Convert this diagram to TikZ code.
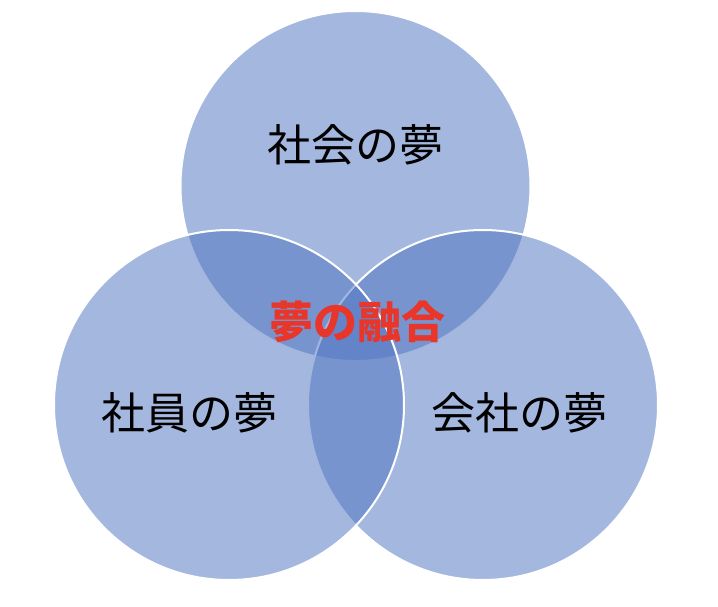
\documentclass[tikz,border=0pt]{standalone}
\usepackage{fontspec}
\newfontfamily\jp{Noto Sans CJK JP}
\definecolor{vennfill}{RGB}{80,117,193}
\definecolor{fusionred}{RGB}{232,54,42}
\begin{document}
\begin{tikzpicture}[x=1pt,y=-1pt,
  venn/.style={circle, minimum size=350pt, inner sep=0pt, fill=vennfill, fill opacity=0.52, draw=white, line width=2pt},
  label/.style={font=\jp\fontsize{44}{48}\selectfont, text=black, inner sep=0pt},
  fusion/.style={font=\jp\bfseries\fontsize{44}{48}\selectfont, text=fusionred, inner sep=0pt}]
\useasboundingbox (0,0) rectangle (718,606);
\node[venn] (society) at (355.5,186) {};
\node[venn] (company) at (483,405) {};
\node[venn] (employee) at (229,405) {};
\node[label] (tsociety) at (355.5,145) {社会の夢};
\node[label] (temployee) at (189,413) {社員の夢};
\node[label] (tcompany) at (519,413) {会社の夢};
\node[fusion] (tfusion) at (357,322) {夢の融合};
\end{tikzpicture}
\end{document}
